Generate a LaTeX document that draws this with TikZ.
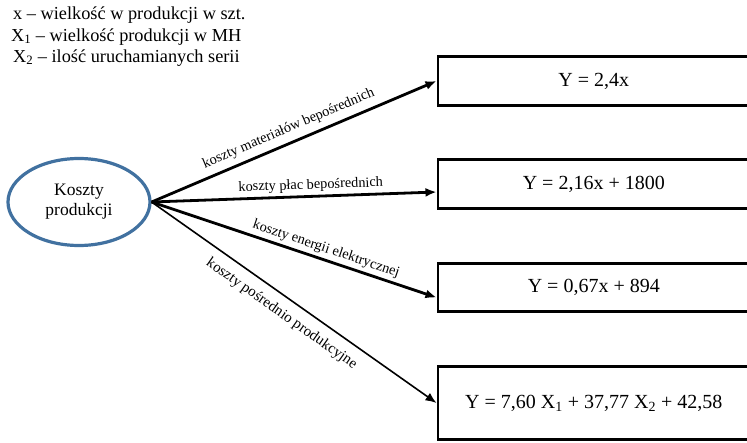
\documentclass[tikz,border=0pt]{standalone}
\usepackage{fontspec}
\setmainfont{Liberation Serif}
\usetikzlibrary{shapes.geometric,arrows.meta,calc}
\definecolor{ovalblue}{RGB}{65,113,160}
\tikzset{
  legtext/.style={anchor=base west,inner sep=0pt,font=\fontsize{18.3}{22}\selectfont},
  eqbox/.style={draw,line width=2.6pt,anchor=west,minimum width=312pt,minimum height=49.5pt,font=\fontsize{20}{24}\selectfont},
  costarrow/.style={line width=2.8pt,-{Latex[length=11pt,width=9pt]}},
  costlabel/.style={sloped,inner sep=1pt,font=\fontsize{14.3}{16}\selectfont},
}
\begin{document}
\begin{tikzpicture}[x=1pt,y=-1pt]
\useasboundingbox (0,0) rectangle (747,442);


\node[legtext] (l1) at (13,19) {x – wielkość w produkcji w szt.};
\node[legtext] (l2) at (11,41) {X\textsubscript{1} – wielkość produkcji w MH};
\node[legtext] (l3) at (13,62) {X\textsubscript{2} – ilość uruchamianych serii};

\node[ellipse,draw=ovalblue,line width=3.2pt,minimum width=142pt,minimum height=87pt,align=center,font=\fontsize{17.5}{20}\selectfont] (k) at (79,202) {Koszty\\produkcji};


\node[eqbox] (b1) at (436.5,81) {Y = 2,4x};
\node[eqbox] (b2) at (436.5,184) {Y = 2,16x + 1800};
\node[eqbox,minimum height=48.5pt] (b3) at (436.5,287.5) {Y = 0,67x + 894};
\node[eqbox,minimum height=73.5pt] (b4) at (436.5,403) {Y = 7,60 X\textsubscript{1} + 37,77 X\textsubscript{2} + 42,58};


\draw[costarrow] (k.east) -- (b1.west) node[costlabel,above=5pt,pos=.5] {koszty materiałów bepośrednich};
\draw[costarrow] (k.east) -- ($(b2.west)+(0,8)$) node[costlabel,above=2pt,pos=.56] {koszty płac bepośrednich};
\draw[costarrow] (k.east) -- ($(b3.west)+(0,10)$) node[costlabel,above=2pt,pos=.6] {koszty energii elektrycznej};
\draw[costarrow,line width=1.6pt] (k.east) -- (b4.west) node[costlabel,below=8pt,pos=.49,font=\fontsize{15}{17}\selectfont] {koszty pośrednio produkcyjne};

\end{tikzpicture}
\end{document}
